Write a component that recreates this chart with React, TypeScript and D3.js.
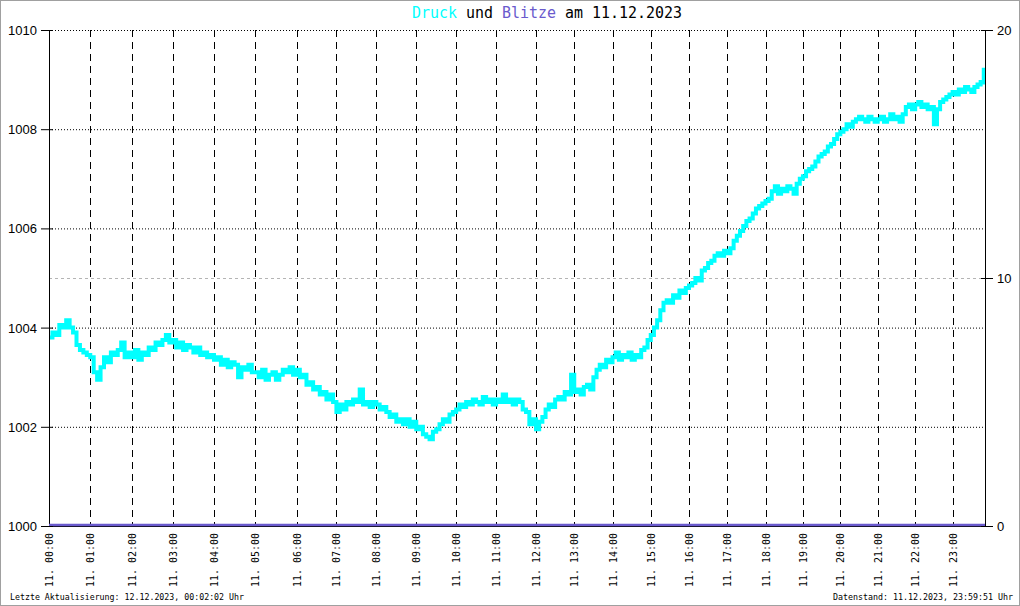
import React from "react";
import * as d3 from "d3";

// Pressure (hPa), 5-minute samples from 00:00 to 23:55, plus the last reading at 23:59
const hour00 = [1003.8, 1003.9, 1003.85, 1004.05, 1004.0, 1004.15, 1004.0, 1003.9, 1003.65, 1003.55, 1003.5, 1003.45];
const hour01 = [1003.4, 1003.1, 1002.95, 1003.2, 1003.4, 1003.3, 1003.5, 1003.45, 1003.55, 1003.7, 1003.4, 1003.5];
const hour02 = [1003.4, 1003.55, 1003.35, 1003.5, 1003.45, 1003.6, 1003.55, 1003.7, 1003.65, 1003.75, 1003.85, 1003.7];
const hour03 = [1003.75, 1003.6, 1003.7, 1003.55, 1003.65, 1003.6, 1003.5, 1003.6, 1003.45, 1003.5, 1003.4, 1003.45];
const hour04 = [1003.35, 1003.4, 1003.25, 1003.35, 1003.2, 1003.3, 1003.25, 1003.0, 1003.2, 1003.15, 1003.25, 1003.1];
const hour05 = [1003.1, 1003.0, 1003.15, 1002.95, 1003.05, 1003.1, 1002.95, 1003.05, 1003.15, 1003.1, 1003.2, 1003.05];
const hour06 = [1003.15, 1003.0, 1003.05, 1002.85, 1002.9, 1002.75, 1002.8, 1002.65, 1002.7, 1002.55, 1002.65, 1002.5];
const hour07 = [1002.3, 1002.45, 1002.35, 1002.5, 1002.45, 1002.55, 1002.5, 1002.75, 1002.45, 1002.5, 1002.4, 1002.5];
const hour08 = [1002.45, 1002.35, 1002.4, 1002.3, 1002.2, 1002.25, 1002.1, 1002.15, 1002.05, 1002.15, 1002.0, 1002.1];
const hour09 = [1001.95, 1002.0, 1001.85, 1001.8, 1001.75, 1001.9, 1001.95, 1002.05, 1002.15, 1002.1, 1002.25, 1002.3];
const hour10 = [1002.35, 1002.45, 1002.4, 1002.5, 1002.45, 1002.55, 1002.5, 1002.45, 1002.6, 1002.5, 1002.55, 1002.45];
const hour11 = [1002.55, 1002.5, 1002.65, 1002.5, 1002.55, 1002.45, 1002.55, 1002.5, 1002.35, 1002.3, 1002.05, 1002.15];
const hour12 = [1001.95, 1002.1, 1002.2, 1002.35, 1002.45, 1002.4, 1002.55, 1002.6, 1002.55, 1002.7, 1002.65, 1003.05];
const hour13 = [1002.7, 1002.75, 1002.65, 1002.8, 1002.85, 1002.75, 1003.0, 1003.15, 1003.25, 1003.2, 1003.35, 1003.3];
const hour14 = [1003.4, 1003.5, 1003.35, 1003.45, 1003.4, 1003.5, 1003.35, 1003.45, 1003.4, 1003.55, 1003.6, 1003.75];
const hour15 = [1003.85, 1004.0, 1004.15, 1004.35, 1004.5, 1004.55, 1004.5, 1004.65, 1004.6, 1004.75, 1004.7, 1004.8];
const hour16 = [1004.85, 1004.9, 1005.0, 1004.95, 1005.15, 1005.2, 1005.3, 1005.35, 1005.45, 1005.5, 1005.45, 1005.55];
const hour17 = [1005.5, 1005.6, 1005.75, 1005.85, 1005.95, 1006.05, 1006.15, 1006.2, 1006.3, 1006.4, 1006.45, 1006.5];
const hour18 = [1006.55, 1006.6, 1006.75, 1006.85, 1006.7, 1006.8, 1006.75, 1006.85, 1006.8, 1006.7, 1006.9, 1007.0];
const hour19 = [1007.05, 1007.15, 1007.2, 1007.25, 1007.35, 1007.45, 1007.5, 1007.55, 1007.65, 1007.7, 1007.8, 1007.9];
const hour20 = [1007.95, 1008.0, 1008.1, 1008.05, 1008.15, 1008.2, 1008.25, 1008.2, 1008.15, 1008.25, 1008.2, 1008.15];
const hour21 = [1008.2, 1008.25, 1008.15, 1008.2, 1008.3, 1008.2, 1008.25, 1008.15, 1008.3, 1008.45, 1008.5, 1008.4];
const hour22 = [1008.5, 1008.55, 1008.45, 1008.5, 1008.4, 1008.45, 1008.1, 1008.4, 1008.55, 1008.6, 1008.65, 1008.7];
const hour23 = [1008.75, 1008.7, 1008.8, 1008.75, 1008.85, 1008.8, 1008.75, 1008.85, 1008.9, 1008.95, 1009.2, 1008.9];
const lastReading = 1008.95;

// Lightning counts per hour (none recorded)
const blitze = [0, 0, 0, 0, 0, 0, 0, 0, 0, 0, 0, 0, 0, 0, 0, 0, 0, 0, 0, 0, 0, 0, 0, 0, 0];

const hourTicks = d3.range(0, 24);
const pressureTicks = [1000, 1002, 1004, 1006, 1008, 1010];
const blitzTicks = [0, 10, 20];

const W = 1020;
const H = 606;
const left = 49;
const right = 985;
const top = 30;
const bottom = 526;

export default function App() {
  const hours = [hour00, hour01, hour02, hour03, hour04, hour05, hour06, hour07, hour08, hour09, hour10, hour11,
    hour12, hour13, hour14, hour15, hour16, hour17, hour18, hour19, hour20, hour21, hour22, hour23];
  const series: { t: number; v: number }[] = [];
  hours.forEach((arr, h) => arr.forEach((v, i) => series.push({ t: h + i / 12, v })));
  series.push({ t: 23 + 59.85 / 60, v: lastReading });

  // time axis of the original is slightly compressed later in the day
  const x = d3.scaleLinear().domain([0, 6, 12, 18, 24]).range([left, 296.5, 536, 765.5, 990]);
  const y = d3.scaleLinear().domain([1000, 1010]).range([bottom, top]);
  const y2 = d3.scaleLinear().domain([0, 20]).range([bottom, top]);

  const line = d3.line<{ t: number; v: number }>()
    .x((d) => Math.min(x(d.t), right - 1))
    .y((d) => y(d.v))
    .curve(d3.curveStepAfter);

  const blitzLine = d3.line<number>()
    .x((_, i) => Math.min(x(i), right))
    .y((d) => y2(d) - 1);

  const mono = "'DejaVu Sans Mono', monospace";
  const sans = "'Liberation Sans', Arial, sans-serif";

  return (
    <svg width={W} height={H} style={{ position: "fixed", left: 0, top: 0, background: "#fff" }}>
      <rect x={0.5} y={0.5} width={W - 1} height={H - 1} fill="#fff" stroke="#a0a0a0" />
      {/* title */}
      <text x={412} y={18} fontFamily={mono} fontSize={15} textLength={270} lengthAdjust="spacingAndGlyphs">
        <tspan fill="#00ffff">Druck</tspan>
        <tspan fill="#000"> und </tspan>
        <tspan fill="#6a5acd">Blitze</tspan>
        <tspan fill="#000"> am 11.12.2023</tspan>
      </text>

      {/* horizontal grid */}
      {pressureTicks.filter((t) => t > 1000).map((t) => (
        <line key={"hg" + t} x1={left} x2={right} y1={y(t) + 0.5} y2={y(t) + 0.5} stroke="#000" strokeDasharray="1,2" />
      ))}
      <line x1={left} x2={right} y1={y2(10) + 0.5} y2={y2(10) + 0.5} stroke="#b4b4b4" strokeDasharray="3,3" />

      {/* vertical grid */}
      {hourTicks.filter((h) => h > 0).map((h) => (
        <line key={"vg" + h} x1={Math.round(x(h)) + 0.5} x2={Math.round(x(h)) + 0.5} y1={top} y2={bottom}
          stroke="#000" strokeDasharray="7,5" />
      ))}

      {/* pressure */}
      <path d={line(series) || ""} fill="none" stroke="#00ffff" strokeWidth={4} />

      {/* axes */}
      <line x1={left + 0.5} x2={left + 0.5} y1={top} y2={bottom} stroke="#000" />
      <line x1={right + 0.5} x2={right + 0.5} y1={top} y2={bottom} stroke="#000" />
      <line x1={left} x2={right} y1={bottom + 0.5} y2={bottom + 0.5} stroke="#000" />

      {/* lightning */}
      <path d={blitzLine(blitze) || ""} fill="none" stroke="#6a5acd" strokeWidth={2.5} />

      {pressureTicks.map((t) => (
        <g key={"pt" + t}>
          <line x1={left - 8} x2={left + 4} y1={y(t) + 0.5} y2={y(t) + 0.5} stroke="#000" />
          <text x={left - 12} y={y(t) + 5} textAnchor="end" fontFamily={sans} fontSize={13}>{t}</text>
        </g>
      ))}
      {blitzTicks.map((t) => (
        <g key={"bt" + t}>
          <line x1={right - 4} x2={right + 8} y1={y2(t) + 0.5} y2={y2(t) + 0.5} stroke="#000" />
          <text x={right + 12} y={y2(t) + 5} textAnchor="start" fontFamily={sans} fontSize={13}>{t}</text>
        </g>
      ))}

      {/* time labels */}
      {hourTicks.map((h) => {
        const lx = Math.round(x(h)) + 4;
        const label = `11. ${String(h).padStart(2, "0")}:00`;
        return (
          <text key={"tl" + h} transform={`translate(${lx},${587}) rotate(-90)`} fontFamily={mono} fontSize={10}
            textLength={54} lengthAdjust="spacingAndGlyphs">{label}</text>
        );
      })}

      {/* footer */}
      <text x={10} y={600} fontFamily={mono} fontSize={9} textLength={234} lengthAdjust="spacingAndGlyphs">
        Letzte Aktualisierung: 12.12.2023, 00:02:02 Uhr
      </text>
      <text x={1013} y={600} textAnchor="end" fontFamily={mono} fontSize={9} textLength={180} lengthAdjust="spacingAndGlyphs">
        Datenstand: 11.12.2023, 23:59:51 Uhr
      </text>
    </svg>
  );
}
